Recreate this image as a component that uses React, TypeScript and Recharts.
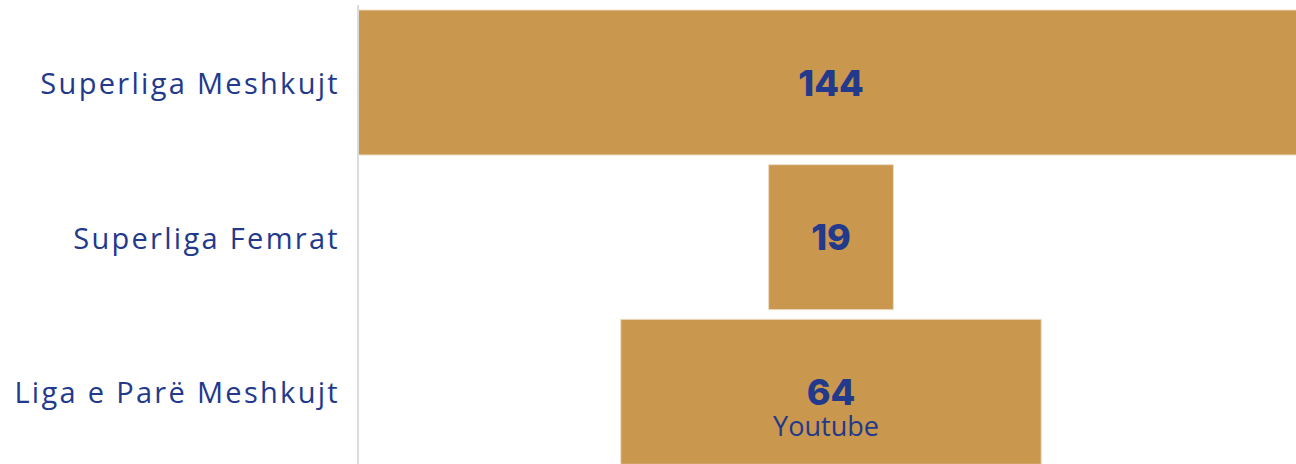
import React from "react";
import { BarChart, Bar, XAxis, YAxis, LabelList } from "recharts";

const categories = ["Superliga Meshkujt", "Superliga Femrat", "Liga e Parë Meshkujt"];
const values = [144, 19, 64];
const subtitles = ["", "", "Youtube"];

const maxValue = Math.max(...values);

const data = categories.map((name, i) => ({
  name,
  value: values[i],
  // invisible spacer so every bar sits centred (funnel look)
  offset: (maxValue - values[i]) / 2,
  sub: subtitles[i],
}));

const BLUE = "#22398c";
const GOLD = "#c9974d";

const CategoryTick = (props: any) => {
  const { x, y, payload } = props;
  return (
    <text
      x={x}
      y={y}
      textAnchor="end"
      dominantBaseline="central"
      fill={BLUE}
      fontFamily="'Open Sans', sans-serif"
      fontSize={29}
      letterSpacing={2.3}
    >
      {payload.value}
    </text>
  );
};

const ValueLabel = (props: any) => {
  const { x, y, width, height, index } = props;
  const cx = x + width / 2;
  const cy = y + height / 2;
  const sub = subtitles[index];
  return (
    <g>
      <text
        x={cx}
        y={cy}
        textAnchor="middle"
        dominantBaseline="central"
        fill={BLUE}
        fontFamily="Inter, sans-serif"
        fontWeight={800}
        fontSize={36}
      >
        {values[index]}
      </text>
      {sub ? (
        <text
          x={cx - 5}
          y={cy + 34}
          textAnchor="middle"
          dominantBaseline="central"
          fill={BLUE}
          fontFamily="'Open Sans', sans-serif"
          fontSize={27}
        >
          {sub}
        </text>
      ) : null}
    </g>
  );
};

export default function App() {
  return (
    <div
      style={{
        width: 1296,
        height: 464,
        overflow: "hidden",
        background: "#fff",
      }}
    >
      <style>{"body{margin:0}"}</style>
      <BarChart
        width={1304}
        height={469}
        data={data}
        layout="vertical"
        margin={{ top: 5, right: 0, bottom: 0, left: 0 }}
        barCategoryGap={5}
      >
        <XAxis type="number" domain={[0, maxValue]} hide />
        <YAxis
          type="category"
          dataKey="name"
          width={358}
          axisLine={{ stroke: "#dcdcdc", strokeWidth: 2 }}
          tickLine={false}
          tickMargin={12}
          tick={<CategoryTick />}
        />
        <Bar dataKey="offset" stackId="f" fill="transparent" isAnimationActive={false} />
        <Bar
          dataKey="value"
          stackId="f"
          fill={GOLD}
          stroke="#ecdcc2"
          strokeWidth={1}
          isAnimationActive={false}
        >
          <LabelList dataKey="value" content={<ValueLabel />} />
        </Bar>
      </BarChart>
    </div>
  );
}
